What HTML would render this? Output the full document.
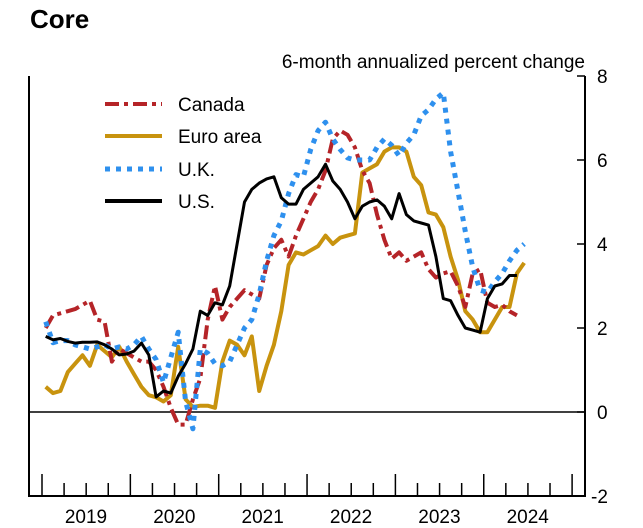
<!DOCTYPE html>
<html><head><meta charset="utf-8"><style>
body{margin:0;background:#fff;}
svg{display:block;font-family:"Liberation Sans",Arial,sans-serif;}
</style></head><body>
<svg id="chart" width="643" height="528" viewBox="0 0 643 528" xmlns="http://www.w3.org/2000/svg">
<text x="30" y="28" font-size="26" font-weight="bold">Core</text>
<text x="585" y="68" font-size="19" text-anchor="end">6-month annualized percent change</text>
<g id="axes"></g>
<g id="series"></g>
<g id="legend"></g>
</svg>
<script>
const yearLabels = ["2019","2020","2021","2022","2023","2024"];
const yTicks = [8,6,4,2,0,-2];
const canada = [2.0,2.3,2.35,2.4,2.45,2.55,2.65,2.2,2.15,1.2,1.5,1.4,1.3,1.2,1.2,1.0,0.6,0.1,-0.3,-0.3,0.3,0.8,2.2,3.0,2.2,2.5,2.7,2.9,2.8,2.7,3.5,3.9,4.1,3.7,4.2,4.6,5.0,5.3,5.75,6.5,6.7,6.6,6.3,5.75,5.45,4.7,4.1,3.65,3.8,3.6,3.7,3.8,3.4,3.2,3.3,3.35,3.0,2.5,3.3,3.4,2.6,2.5,2.55,2.4,2.3];
const euro = [0.6,0.45,0.5,0.95,1.15,1.35,1.1,1.6,1.45,1.3,1.55,1.2,0.9,0.6,0.4,0.35,0.25,0.4,1.55,0.3,0.12,0.15,0.15,0.1,1.2,1.7,1.6,1.35,1.8,0.5,1.1,1.6,2.4,3.5,3.8,3.75,3.85,3.95,4.2,4.0,4.15,4.2,4.25,5.7,5.8,5.9,6.2,6.3,6.3,6.2,5.6,5.4,4.75,4.7,4.4,3.7,3.15,2.4,2.2,1.9,1.9,2.2,2.5,2.5,3.3,3.55];
const uk = [2.15,1.65,1.7,1.7,1.6,1.55,1.5,1.55,1.6,1.5,1.55,1.5,1.6,1.8,1.5,1.25,0.7,1.3,1.9,0.25,-0.4,1.5,1.4,1.15,1.1,1.2,1.6,2.0,2.2,2.8,3.6,4.2,4.55,5.2,5.65,5.6,6.25,6.7,6.9,6.5,6.25,6.05,6.0,6.0,6.0,6.3,6.5,6.35,6.1,6.4,6.6,7.05,7.2,7.45,7.6,6.2,5.25,4.3,3.45,2.9,2.85,3.1,3.3,3.6,3.85,4.0];
const us = [1.8,1.72,1.75,1.68,1.64,1.66,1.66,1.67,1.6,1.5,1.36,1.38,1.45,1.64,1.36,0.36,0.5,0.45,0.85,1.15,1.5,2.4,2.3,2.6,2.55,3.0,4.0,5.0,5.3,5.45,5.55,5.6,5.1,4.95,4.95,5.3,5.45,5.6,5.9,5.5,5.3,5.0,4.6,4.9,5.0,5.05,4.9,4.6,5.2,4.7,4.55,4.5,4.45,3.7,2.7,2.65,2.3,2.0,1.95,1.9,2.7,3.0,3.05,3.25,3.25];

const X0=42, PER_MONTH=88.35/12, LEFT=29, RIGHT=585, BOTTOM=496;
function xMonth(i){return X0+(i+0.5)*PER_MONTH;}
function xYearStart(k){return X0+k*12*PER_MONTH;}
function yVal(v){return 412-v*42;}
const NS="http://www.w3.org/2000/svg";
function mk(tag,attrs,parent){const e=document.createElementNS(NS,tag);for(const k in attrs)e.setAttribute(k,attrs[k]);parent.appendChild(e);return e;}
const axes=document.getElementById('axes');
let e;
e=mk('path',{d:`M${LEFT} 76V${BOTTOM}H${RIGHT}V76`,fill:'none',stroke:'#000','stroke-width':2},axes);


e=mk('line',{x1:LEFT,x2:RIGHT,y1:yVal(0),y2:yVal(0),stroke:'#000','stroke-width':1.5},axes);


yTicks.forEach(v=>{
  const t=mk('line',{x1:RIGHT-8,x2:RIGHT,y1:yVal(v),y2:yVal(v),stroke:'#000','stroke-width':1.5},axes);
  
  
  const l=mk('text',{x:v<0?591:597,y:yVal(v)+7,'font-size':19},axes);
  l.textContent=String(v);
  
  
});
for(let q=0;q<=24;q++){
  const x=X0+q*3*PER_MONTH;
  const major=q%4===0;
  const t=mk('line',{x1:x,x2:x,y1:major?474:483,y2:BOTTOM,stroke:'#000','stroke-width':1.5},axes);
  
  
}
yearLabels.forEach((y,k)=>{
  const l=mk('text',{x:xYearStart(k)+44,y:523,'font-size':19,'text-anchor':'middle'},axes);
  l.textContent=y;
  
  
});
const sg=document.getElementById('series');
function line(arr,color,dash,name,w){
  const d=arr.map((v,i)=>(i?'L':'M')+xMonth(i).toFixed(1)+' '+yVal(v).toFixed(1)).join('');
  const p=mk('path',{d:d,fill:'none',stroke:color,'stroke-width':w,'stroke-linejoin':'round'},sg);
  if(dash)p.setAttribute('stroke-dasharray',dash);
  
  
}
line(euro,'#C8930E',null,'euro-area-line',4);
line(canada,'#B52428','14 5 4 5','canada-line',4);
line(uk,'#2E90EE','5 6','uk-line',5);
line(us,'#000',null,'us-line',3);
const lg=document.getElementById('legend');
[["Canada",'#B52428','14 5 4 5',104,4],["Euro area",'#C8930E',null,136,4],["U.K.",'#2E90EE','5 6',169,5],["U.S.",'#000',null,201,4]].forEach(([n,c,d,y,w])=>{
  const l=mk('line',{x1:105,x2:162,y1:y,y2:y,stroke:c,'stroke-width':w},lg);
  if(d)l.setAttribute('stroke-dasharray',d);
  
  
  const t=mk('text',{x:178,y:y+7,'font-size':19},lg);
  t.textContent=n;
  
  
});
</script>
</body></html>
